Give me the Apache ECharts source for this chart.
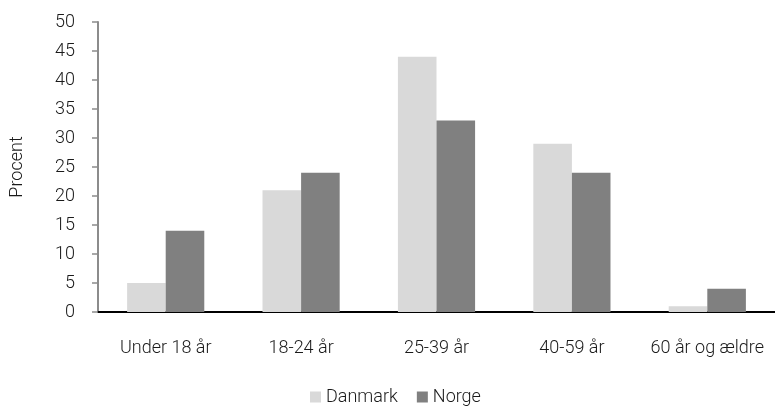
<!DOCTYPE html>
<html><head><meta charset="utf-8">
<script src="https://cdn.jsdelivr.net/npm/echarts@6/dist/echarts.min.js"></script>
<style>html,body{margin:0;padding:0;background:#fff}#c{width:775px;height:407px}</style>
</head><body><div id="c"></div>
<script>
const categories = ['Under 18 år', '18-24 år', '25-39 år', '40-59 år', '60 år og ældre'];
const danmark = [5, 21, 44, 29, 1];
const norge = [14, 24, 33, 24, 4];
const yTicks = { min: 0, max: 50, interval: 5 };

const chart = echarts.init(document.getElementById('c'));
const font = 'Roboto';
const fw = 300;
chart.setOption({
  animation: false,
  textStyle: { fontFamily: font, fontWeight: fw },
  grid: { left: 95, right: 0, top: 22, bottom: 95, containLabel: false },
  legend: {
    top: 388, left: 310, padding: 0, itemWidth: 11, itemHeight: 11, itemGap: 19,
    icon: 'rect',
    textStyle: { fontFamily: font, fontWeight: fw, fontSize: 18, color: '#1a1a1a' },
    data: ['Danmark', 'Norge']
  },
  xAxis: {
    type: 'category', data: categories,
    axisLine: { lineStyle: { color: '#000', width: 2 } },
    axisTick: { show: false },
    axisLabel: { color: '#1a1a1a', fontWeight: fw, fontSize: 18, margin: 27, interval: 0 }
  },
  yAxis: {
    type: 'value', min: yTicks.min, max: yTicks.max, interval: yTicks.interval,
    name: 'Procent', nameLocation: 'middle', nameGap: 72, nameRotate: 90,
    nameTextStyle: { fontSize: 18, fontWeight: fw, color: '#1a1a1a' },
    axisLine: { show: true, lineStyle: { color: '#8c8c8c', width: 2 } },
    axisTick: { show: true, length: 6, lineStyle: { color: '#8c8c8c', width: 1.5 } },
    axisLabel: { color: '#1a1a1a', fontWeight: fw, fontSize: 18, margin: 23 },
    splitLine: { show: false }
  },
  series: [
    { name: 'Danmark', type: 'bar', data: danmark, barGap: '0%', barCategoryGap: '43%',
      itemStyle: { color: '#d9d9d9' } },
    { name: 'Norge', type: 'bar', data: norge, barGap: '0%', barCategoryGap: '43%',
      itemStyle: { color: '#808080' } }
  ]
});
</script></body></html>
